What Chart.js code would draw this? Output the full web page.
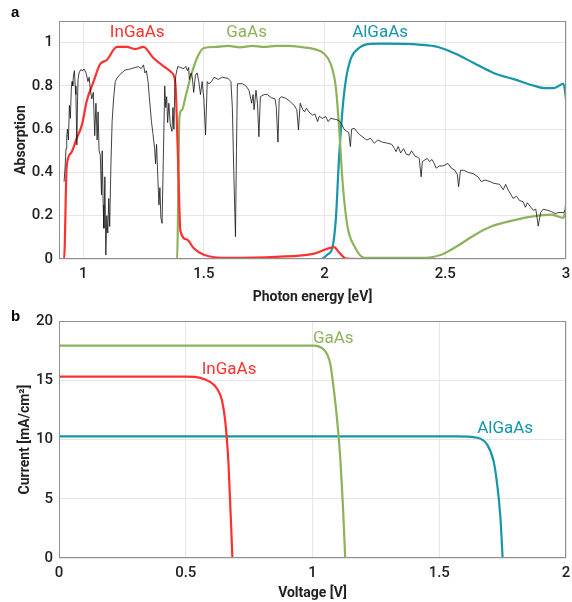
<!DOCTYPE html>
<html>
<head>
<meta charset="utf-8">
<script src="https://cdn.jsdelivr.net/npm/chart.js@4/dist/chart.umd.min.js"></script>
<style>
    body { margin: 0; background: #fff; }
    #wrap { position: relative; width: 572px; height: 602px; }
    canvas { position: absolute; left: 0; }
    #top { top: 0; }
    #bottom { top: 306px; }
    .panel { position: absolute; left: 11px; font: bold 15px "Liberation Sans", Arial, sans-serif; }
</style>
</head>
<body>
<div id="wrap">
    <canvas id="top" width="572" height="306"></canvas>
    <canvas id="bottom" width="572" height="296"></canvas>
    <div class="panel" style="top: 3px">a</div>
    <div class="panel" style="top: 307px">b</div>
</div>
<script>
// --- panel a: absorption vs photon energy ---
const solarE = [0.921, 0.925, 0.929, 0.932, 0.935, 0.939, 0.943, 0.947, 0.951, 0.954, 0.957, 0.96, 0.964, 0.967, 0.97, 0.974,
    0.977, 0.979, 0.983, 0.99, 0.998, 1.004, 1.012, 1.02, 1.025, 1.03, 1.036, 1.042, 1.048, 1.053, 1.058, 1.062, 1.066, 1.071,
    1.076, 1.079, 1.083, 1.086, 1.09, 1.094, 1.098, 1.102, 1.106, 1.11, 1.115, 1.12, 1.126, 1.133, 1.14, 1.15, 1.16, 1.174,
    1.188, 1.2, 1.215, 1.23, 1.24, 1.25, 1.256, 1.262, 1.269, 1.274, 1.283, 1.289, 1.296, 1.3, 1.304, 1.31, 1.314, 1.318,
    1.322, 1.327, 1.331, 1.338, 1.342, 1.346, 1.35, 1.355, 1.361, 1.368, 1.372, 1.376, 1.38, 1.384, 1.392, 1.403, 1.417, 1.425,
    1.432, 1.437, 1.44, 1.447, 1.452, 1.458, 1.465, 1.472, 1.479, 1.486, 1.493, 1.5, 1.507, 1.514, 1.52, 1.532, 1.542, 1.56,
    1.576, 1.6, 1.612, 1.618, 1.624, 1.631, 1.635, 1.639, 1.66, 1.674, 1.687, 1.698, 1.704, 1.708, 1.716, 1.722, 1.728, 1.734,
    1.75, 1.763, 1.78, 1.795, 1.8, 1.807, 1.812, 1.82, 1.839, 1.855, 1.874, 1.885, 1.892, 1.899, 1.91, 1.917, 1.925, 1.935,
    1.95, 1.96, 1.971, 1.978, 1.99, 2.005, 2.015, 2.025, 2.047, 2.06, 2.072, 2.081, 2.092, 2.1, 2.107, 2.112, 2.123, 2.133,
    2.145, 2.165, 2.175, 2.19, 2.206, 2.22, 2.24, 2.262, 2.278, 2.29, 2.296, 2.305, 2.315, 2.327, 2.338, 2.351, 2.36, 2.375,
    2.386, 2.392, 2.4, 2.405, 2.425, 2.435, 2.445, 2.455, 2.462, 2.475, 2.49, 2.5, 2.511, 2.525, 2.54, 2.55, 2.555, 2.563,
    2.577, 2.595, 2.615, 2.635, 2.649, 2.665, 2.685, 2.7, 2.725, 2.74, 2.75, 2.76, 2.781, 2.795, 2.808, 2.822, 2.832, 2.84,
    2.85, 2.865, 2.875, 2.885, 2.895, 2.905, 2.925, 2.94, 2.955, 2.97, 2.989, 3.0];
const solarA = [0.357, 0.42, 0.51, 0.56, 0.6, 0.55, 0.71, 0.65, 0.79, 0.82, 0.8, 0.85, 0.87, 0.8, 0.76, 0.527,
    0.75, 0.83, 0.86, 0.875, 0.87, 0.878, 0.86, 0.82, 0.84, 0.78, 0.74, 0.77, 0.57, 0.72, 0.55, 0.68, 0.5, 0.48,
    0.296, 0.5, 0.25, 0.142, 0.38, 0.018, 0.2, 0.12, 0.28, 0.15, 0.435, 0.635, 0.74, 0.82, 0.835, 0.85, 0.86, 0.874,
    0.876, 0.88, 0.885, 0.889, 0.88, 0.897, 0.86, 0.87, 0.82, 0.75, 0.635, 0.58, 0.51, 0.44, 0.53, 0.357, 0.25, 0.33,
    0.19, 0.165, 0.4, 0.8, 0.7, 0.75, 0.63, 0.72, 0.62, 0.59, 0.7, 0.6, 0.8, 0.85, 0.89, 0.885, 0.88, 0.89,
    0.87, 0.885, 0.83, 0.86, 0.84, 0.77, 0.85, 0.86, 0.82, 0.76, 0.82, 0.74, 0.573, 0.82, 0.81, 0.82, 0.84, 0.83,
    0.84, 0.835, 0.82, 0.7, 0.4, 0.103, 0.5, 0.81, 0.81, 0.8, 0.78, 0.72, 0.76, 0.69, 0.78, 0.72, 0.565, 0.75,
    0.76, 0.76, 0.745, 0.74, 0.7, 0.54, 0.74, 0.75, 0.743, 0.73, 0.71, 0.69, 0.596, 0.72, 0.69, 0.68, 0.697, 0.68,
    0.665, 0.67, 0.635, 0.66, 0.65, 0.658, 0.635, 0.65, 0.645, 0.64, 0.62, 0.6, 0.59, 0.585, 0.52, 0.6, 0.604, 0.59,
    0.575, 0.558, 0.55, 0.558, 0.535, 0.55, 0.54, 0.535, 0.53, 0.51, 0.496, 0.52, 0.49, 0.51, 0.485, 0.48, 0.5, 0.475,
    0.47, 0.465, 0.38, 0.45, 0.465, 0.45, 0.46, 0.44, 0.42, 0.43, 0.43, 0.435, 0.442, 0.42, 0.41, 0.39, 0.334, 0.41,
    0.41, 0.4, 0.395, 0.38, 0.358, 0.365, 0.358, 0.35, 0.345, 0.32, 0.345, 0.32, 0.28, 0.29, 0.27, 0.265, 0.239, 0.26,
    0.245, 0.225, 0.23, 0.152, 0.215, 0.23, 0.225, 0.219, 0.21, 0.215, 0.214, 0.23];

const ingaasE = [0.9, 0.921, 0.932, 0.95, 0.974, 0.995, 1.015, 1.043, 1.07, 1.098, 1.14, 1.18, 1.216, 1.25, 1.29, 1.334, 1.368,
    1.382, 1.392, 1.403, 1.43, 1.458, 1.5, 1.6, 1.8, 1.957, 2.005, 2.04, 2.06, 2.09, 2.2, 2.6, 3.0];
const ingaasA = [0, 0, 0.43, 0.49, 0.56, 0.62, 0.73, 0.82, 0.9, 0.92, 0.98, 0.98, 0.97, 0.98, 0.93, 0.89, 0.86,
    0.81, 0.5, 0.13, 0.09, 0.05, 0.02, 0.005, 0.01, 0.025, 0.045, 0.055, 0.03, 0.002, 0, 0, 0];

const gaasE = [0.9, 1.389, 1.399, 1.41, 1.424, 1.445, 1.472, 1.5, 1.55, 1.6, 1.65, 1.7, 1.75, 1.8, 1.85, 1.9, 1.957, 1.997,
    2.026, 2.047, 2.06, 2.075, 2.095, 2.123, 2.165, 2.4, 2.483, 2.55, 2.62, 2.69, 2.787, 2.87, 2.94, 2.99, 3.0];
const gaasA = [0, 0, 0.66, 0.69, 0.75, 0.84, 0.93, 0.975, 0.98, 0.985, 0.978, 0.985, 0.98, 0.985, 0.985, 0.98, 0.97, 0.95,
    0.9, 0.79, 0.61, 0.35, 0.15, 0.06, 0.005, 0.005, 0.02, 0.06, 0.11, 0.15, 0.18, 0.198, 0.205, 0.19, 0.25];

const algaasE = [0.9, 1.985, 2.012, 2.033, 2.047, 2.06, 2.075, 2.09, 2.11, 2.137, 2.18, 2.234, 2.4, 2.47, 2.54, 2.62, 2.7,
    2.787, 2.87, 2.91, 2.95, 2.99, 3.0];
const algaasA = [0, 0, 0.02, 0.055, 0.19, 0.47, 0.7, 0.84, 0.93, 0.97, 0.993, 0.995, 0.99, 0.98, 0.95, 0.905, 0.86,
    0.83, 0.8, 0.79, 0.79, 0.81, 0.74];

const energyTicks = [1, 1.5, 2, 2.5, 3];
const absTicks = [0, 0.2, 0.4, 0.6, 0.8, 1];

// --- panel b: J-V curves ---
const ingaasV = [0, 0.3, 0.504, 0.557, 0.597, 0.623, 0.643, 0.656, 0.669, 0.684];
const ingaasJ = [15.3, 15.3, 15.3, 15.2, 14.85, 14.3, 13.3, 11.5, 7.8, 0];
const gaasV = [0, 0.5, 1.004, 1.044, 1.07, 1.083, 1.096, 1.11, 1.12, 1.129];
const gaasJ = [17.93, 17.93, 17.93, 17.6, 16.4, 14.4, 11.9, 8.3, 4.4, 0];
const algaasV = [0, 0.8, 1.57, 1.649, 1.688, 1.714, 1.728, 1.741, 1.75];
const algaasJ = [10.27, 10.27, 10.27, 10.15, 9.6, 8.2, 6.3, 3.5, 0];

const voltTicks = [0, 0.5, 1, 1.5, 2];
const currentTicks = [0, 5, 10, 15, 20];

const RED = "#ff3030";
const GREEN = "#8cb35a";
const TEAL = "#1696a8";

const tickFont = { family: "Roboto, 'Liberation Sans', sans-serif", size: 15, weight: "500" };
const titleFont = { family: "Roboto, 'Liberation Sans', sans-serif", size: 14, weight: "bold" };

function points(xs, ys) {
    return xs.map((x, i) => ({ x: x, y: ys[i] }));
}

function line(label, xs, ys, color, width, order, smooth) {
    return {
        label: label,
        data: points(xs, ys),
        borderColor: color,
        borderWidth: width,
        pointRadius: 0,
        fill: false,
        order: order,
        cubicInterpolationMode: smooth ? "monotone" : "default",
        tension: 0
    };
}

// box around the plot and the coloured series names
const decor = {
    id: "decor",
    afterDraw(chart, args, opts) {
        const { ctx, chartArea: a } = chart;
        const xs = chart.scales.x, ys = chart.scales.y;
        ctx.save();
        ctx.strokeStyle = "#8f8f8f";
        ctx.lineWidth = 1;
        ctx.strokeRect(Math.round(a.left) + 0.5, Math.round(a.top) + 0.5,
            Math.round(a.right - a.left) - 1, Math.round(a.bottom - a.top) - 1);
        ctx.font = "17px Roboto, 'Liberation Sans', sans-serif";
        ctx.textAlign = "center";
        ctx.textBaseline = "middle";
        for (const n of opts.names) {
            ctx.fillStyle = n.color;
            ctx.fillText(n.text, xs.getPixelForValue(n.x), ys.getPixelForValue(n.y));
        }
        ctx.restore();
    }
};

function axes(xTicks, yTicks, xMin, xMax, yMax, xTitle, yTitle, xHeight, yTitlePad) {
    const grid = { color: "#e6e6e6", drawTicks: false, lineWidth: 1 };
    return {
        x: {
            type: "linear", min: xMin, max: xMax,
            grid: grid, border: { display: false },
            afterBuildTicks: s => { s.ticks = xTicks.map(v => ({ value: v })); },
            afterFit: s => { s.height = xHeight; s.paddingRight = 6; },
            ticks: { font: tickFont, color: "#222", padding: 6, maxRotation: 0, callback: v => String(v) },
            title: { display: true, text: xTitle, font: titleFont, color: "#222", padding: { top: 0, bottom: 0 } }
        },
        y: {
            type: "linear", min: 0, max: yMax,
            grid: grid, border: { display: false },
            afterBuildTicks: s => { s.ticks = yTicks.map(v => ({ value: v })); },
            afterFit: s => { s.width = 59; },
            ticks: { font: tickFont, color: "#222", padding: 6, callback: v => String(v) },
            title: { display: true, text: yTitle, font: titleFont, color: "#222", padding: { top: yTitlePad, bottom: 0 } }
        }
    };
}

new Chart(document.getElementById("top"), {
    type: "line",
    data: {
        datasets: [
            line("spectrum", solarE, solarA, "#111", 0.8, 0, false),
            line("InGaAs", ingaasE, ingaasA, RED, 2.2, 1, true),
            line("GaAs", gaasE, gaasA, GREEN, 2.2, 2, true),
            line("AlGaAs", algaasE, algaasA, TEAL, 2.2, 3, true)
        ]
    },
    options: {
        responsive: false,
        animation: false,
        layout: { padding: { top: 21, right: 0, left: 0, bottom: 0 } },
        plugins: {
            legend: { display: false },
            tooltip: { enabled: false },
            decor: {
                names: [
                    { text: "InGaAs", x: 1.224, y: 1.045, color: RED },
                    { text: "GaAs", x: 1.677, y: 1.045, color: GREEN },
                    { text: "AlGaAs", x: 2.23, y: 1.045, color: TEAL }
                ]
            }
        },
        scales: axes(energyTicks, absTicks, 0.9, 3, 1.1, "Photon energy [eV]", "Absorption", 47, 13)
    },
    plugins: [decor]
});

new Chart(document.getElementById("bottom"), {
    type: "line",
    data: {
        datasets: [
            line("InGaAs", ingaasV, ingaasJ, RED, 2.2, 0, true),
            line("GaAs", gaasV, gaasJ, GREEN, 2.2, 1, true),
            line("AlGaAs", algaasV, algaasJ, TEAL, 2.2, 2, true)
        ]
    },
    options: {
        responsive: false,
        animation: false,
        layout: { padding: { top: 13, right: 0, left: 0, bottom: 0 } },
        plugins: {
            legend: { display: false },
            tooltip: { enabled: false },
            decor: {
                names: [
                    { text: "GaAs", x: 1.082, y: 18.5, color: GREEN },
                    { text: "InGaAs", x: 0.671, y: 15.9, color: RED },
                    { text: "AlGaAs", x: 1.76, y: 10.9, color: TEAL }
                ]
            }
        },
        scales: axes(voltTicks, currentTicks, 0, 2, 20, "Voltage [V]", "Current [mA/cm\u00b2]", 44, 17)
    },
    plugins: [decor]
});
</script>
</body>
</html>
